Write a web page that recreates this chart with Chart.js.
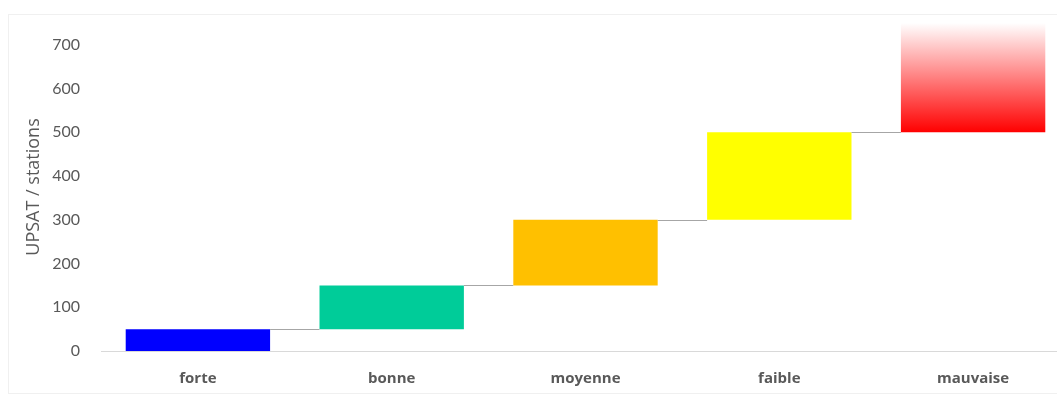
<!DOCTYPE html>
<html>
<head>
<meta charset="utf-8">
<script src="https://cdn.jsdelivr.net/npm/chart.js@4.4.0/dist/chart.umd.min.js"></script>
<style>
  html, body { margin: 0; padding: 0; background: #fff; overflow: hidden; }
  #frame { position: absolute; left: 8px; top: 14px; width: 1060px; height: 378px; border: 1px solid #f0f0f0; }
  #wrap { position: absolute; left: 0; top: 0; width: 1070px; height: 394px; }
</style>
</head>
<body>
<div id="frame"></div>
<div id="wrap"><canvas id="chart"></canvas></div>
<script>
// Waterfall data: each class starts where the previous ended
const categories = ['forte', 'bonne', 'moyenne', 'faible', 'mauvaise'];
const barStarts = [0, 50, 150, 300, 500];
const barEnds = [50, 150, 300, 500, 750];
const barColors = ['#0000ff', '#00cc99', '#ffc000', '#ffff00', 'gradient'];
const yTicks = [0, 100, 200, 300, 400, 500, 600, 700];

const floatingData = categories.map((c, i) => [barStarts[i], barEnds[i]]);

// Red fading to white for the last bar
function barColor(ctx) {
    const col = barColors[ctx.dataIndex];
    if (col !== 'gradient') return col;
    const chart = ctx.chart;
    const y = chart.scales.y;
    if (!y || !chart.chartArea) return '#ff0000';
    const g = chart.ctx.createLinearGradient(0, y.getPixelForValue(barStarts[ctx.dataIndex]), 0, y.getPixelForValue(barEnds[ctx.dataIndex]));
    g.addColorStop(0, '#ff0000');
    g.addColorStop(1, '#ffffff');
    return g;
}

// Thin grey connectors between consecutive bars
const connectorPlugin = {
    id: 'connectors',
    afterDatasetsDraw(chart) {
        const meta = chart.getDatasetMeta(0);
        const y = chart.scales.y;
        const ctx = chart.ctx;
        ctx.save();
        ctx.strokeStyle = '#a6a6a6';
        ctx.lineWidth = 1;
        for (let i = 0; i < meta.data.length - 1; i++) {
            const a = meta.data[i], b = meta.data[i + 1];
            const py = Math.round(y.getPixelForValue(barEnds[i])) + 0.5;
            ctx.beginPath();
            ctx.moveTo(a.x + a.width / 2, py);
            ctx.lineTo(b.x - b.width / 2, py);
            ctx.stroke();
        }
        ctx.restore();
    }
};

new Chart(document.getElementById('chart'), {
    type: 'bar',
    data: {
        labels: categories,
        datasets: [{
            data: floatingData,
            backgroundColor: barColor,
            borderWidth: 0,
            categoryPercentage: 1,
            barPercentage: 0.745
        }]
    },
    options: {
        responsive: true,
        maintainAspectRatio: false,
        animation: false,
        layout: { padding: { top: 23, right: 0, left: 0, bottom: 0 } },
        plugins: {
            legend: { display: false },
            tooltip: { enabled: false }
        },
        scales: {
            x: {
                grid: { display: false },
                border: { display: true, color: '#d9d9d9' },
                ticks: {
                    color: '#595959',
                    padding: 11,
                    font: { family: 'Open Sans', size: 15, weight: 'bold' }
                },
                afterFit: (s) => { s.height = 43; }
            },
            y: {
                min: 0,
                max: 750,
                afterBuildTicks: (s) => { s.ticks = yTicks.map(v => ({ value: v })); },
                grid: { display: false },
                border: { display: false },
                ticks: {
                    color: '#595959',
                    padding: 13,
                    font: { family: 'Lato', size: 16 }
                },
                title: {
                    display: true,
                    text: 'UPSAT / stations',
                    color: '#595959',
                    padding: { top: 23, bottom: 0 },
                    font: { family: 'Open Sans', size: 18 }
                },
                afterFit: (s) => { s.width = 101; }
            }
        }
    },
    plugins: [connectorPlugin]
});
</script>
</body>
</html>
